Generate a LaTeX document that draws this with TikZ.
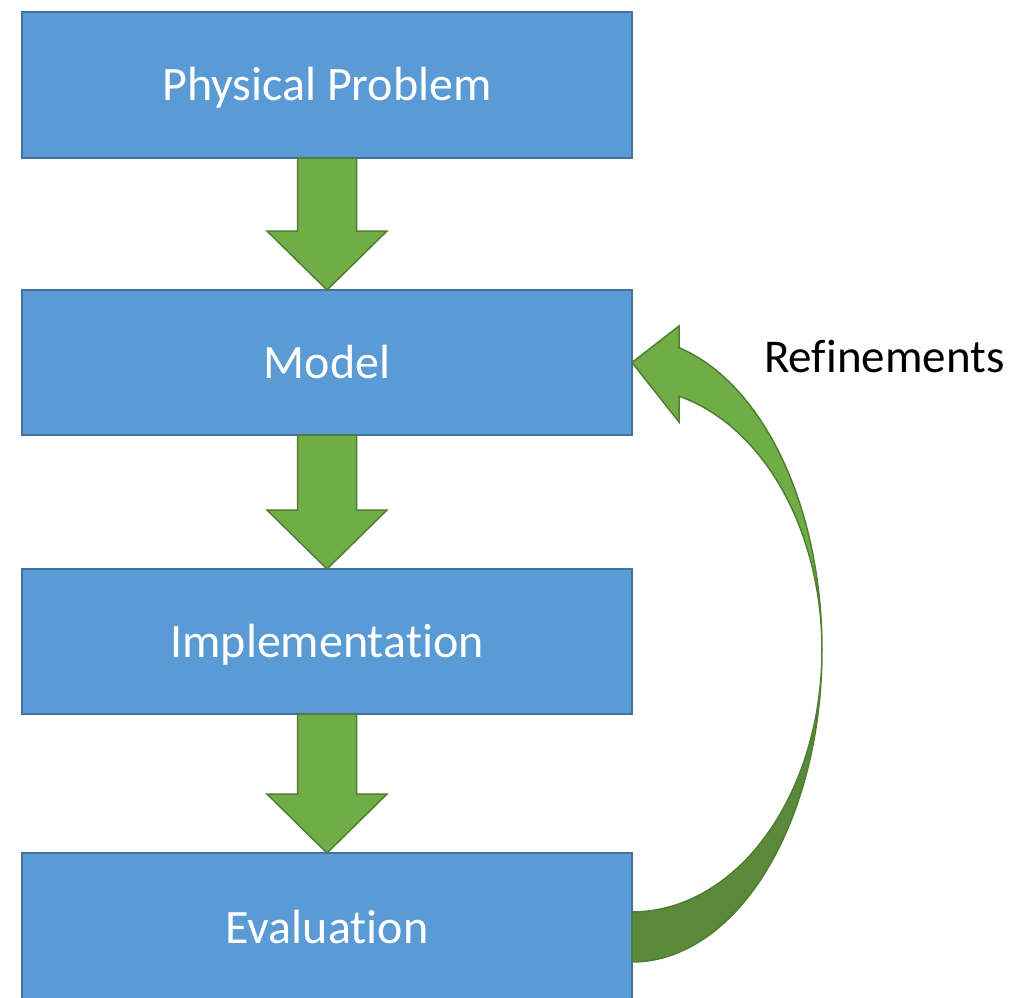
\documentclass[tikz,border=0pt]{standalone}
\usepackage{fontspec}
\setmainfont{Carlito}[Ligatures={NoCommon}]
\usetikzlibrary{calc}
\definecolor{boxfill}{HTML}{5B9BD5}
\definecolor{boxline}{HTML}{41719C}
\definecolor{gfill}{HTML}{70AD47}
\definecolor{gline}{HTML}{507E32}
\definecolor{gdark}{HTML}{5A8A39}
\tikzset{
  stagebox/.style={draw=boxline, fill=boxfill, line width=1.5pt, minimum width=610pt,
    minimum height=146pt, text=white, font=\fontsize{48}{58}\selectfont, inner sep=0pt, outer sep=0pt,
    text height=31pt, text depth=0pt},
  garrow/.style={draw=gline, fill=gfill, line width=1.5pt, line join=miter},
  gback/.style={draw=gline, fill=gdark, line width=1.5pt},
  lbl/.style={text=black, font=\fontsize{47}{56}\selectfont, inner sep=0pt}
}
\newcommand\blockarrow[2]{%
  \draw[garrow] let \p1=(#1.south), \p2=(#2.north) in
    (\x1-29.5pt,\y1) -- (\x1+29.5pt,\y1) -- (\x1+29.5pt,\y2+59pt) -- (\x1+60pt,\y2+59pt)
    -- (\x2,\y2) -- (\x1-60pt,\y2+59pt) -- (\x1-29.5pt,\y2+59pt) -- cycle;}
\begin{document}
\begin{tikzpicture}[x=1pt,y=-1pt]
  \useasboundingbox (0,0) rectangle (1036,998);
  \clip (0,0) rectangle (1036,998);
  \node[stagebox] (b1) at (327,85) {Physical Problem};
  \node[stagebox, minimum height=145pt] (b2) at (327,362.5) {Model};
  \node[stagebox, minimum height=145pt] (b3) at (327,641.5) {Implementation};
  \node[stagebox, minimum height=150pt] (b4) at (327,928) {Evaluation};
  \blockarrow{b1}{b2}
  \blockarrow{b2}{b3}
  \blockarrow{b3}{b4}
  % curved refinement arrow from Evaluation back to Model
  \draw[gback] (632,962) -- plot[domain=-90:0, samples=60] ({632+190*cos(\x)},{650-312*sin(\x)})
     -- plot[domain=0:-90, samples=60] ({632+190*cos(\x)},{650-262*sin(\x)}) -- cycle;
  \draw[garrow] (b2.east) -- (679,326) -- (679,347.7)
     -- plot[domain=75.68:0, samples=60] ({632+190*cos(\x)},{650-312*sin(\x)})
     -- plot[domain=0:75.68, samples=60] ({632+190*cos(\x)},{650-262*sin(\x)})
     -- (679,422) -- cycle;
  \node[lbl, anchor=base west] (ref) at (764,372) {Refinements};
\end{tikzpicture}
\end{document}
